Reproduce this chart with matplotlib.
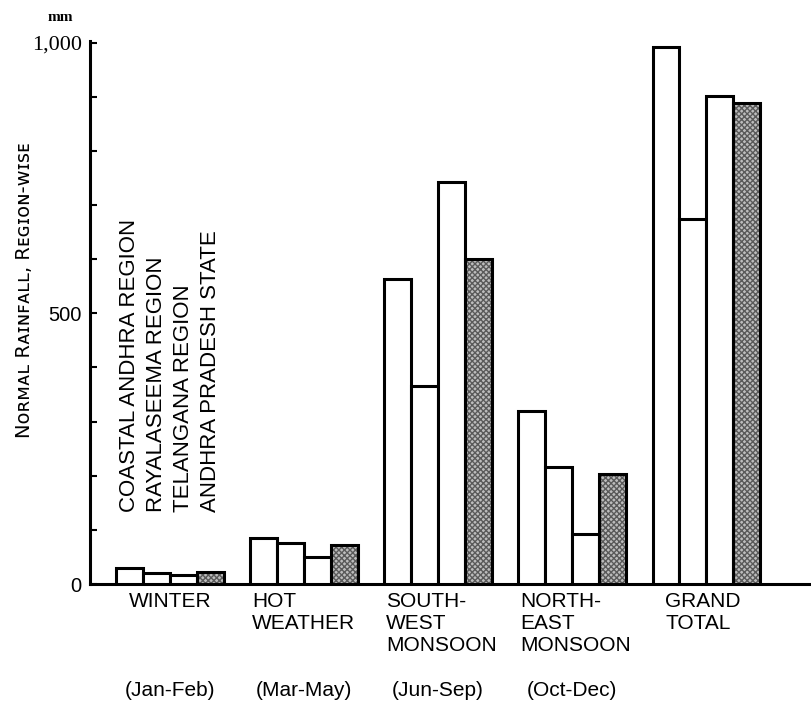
import matplotlib
matplotlib.use('Agg')
import matplotlib.pyplot as plt
import numpy as np
from matplotlib.ticker import MultipleLocator

# seasonal normal rainfall (mm)
seasons = ['WINTER', 'HOT\nWEATHER', 'SOUTH-\nWEST\nMONSOON', 'NORTH-\nEAST\nMONSOON', 'GRAND\nTOTAL']
months = ['(Jan-Feb)', '(Mar-May)', '(Jun-Sep)', '(Oct-Dec)']
regions = ['COASTAL ANDHRA REGION', 'RAYALASEEMA REGION', 'TELANGANA REGION', 'ANDHRA PRADESH STATE']
coastal = [30, 85, 564, 320, 991]
rayalaseema = [20, 76, 366, 216, 675]
telangana = [17, 50, 743, 92, 902]
state = [22, 72, 601, 203, 889]
y_ticks = [0, 500, 1000]
y_ticklabels = ['0', '500', '1,000']

plt.rcParams['font.family'] = ['Liberation Sans', 'DejaVu Sans']

fig = plt.figure(figsize=(8.12, 7.09), dpi=100)
ax = fig.add_axes([90 / 812, 125 / 709, 722 / 812, 543 / 709])

x = np.arange(len(seasons))
w = 0.2
series = [coastal, rayalaseema, telangana, state]
for k, vals in enumerate(series):
    pos = x + (k - 1.5) * w
    if k == 3:
        # stippled fill for the state total
        ax.bar(pos, vals, w, color='#bdbdbd', hatch='xxxxxx', edgecolor='#5a5a5a',
               linewidth=0, zorder=2)
        ax.bar(pos, vals, w, facecolor='none', edgecolor='black', linewidth=2.2, zorder=3)
    else:
        ax.bar(pos, vals, w, facecolor='white', edgecolor='black', linewidth=2.2, zorder=3)

ax.set_xlim(-0.597, 4.79)
ax.set_ylim(0, 1003)
for s in ['top', 'right']:
    ax.spines[s].set_visible(False)
ax.spines['left'].set_linewidth(2.2)
ax.spines['bottom'].set_linewidth(2.2)

ax.set_xticks([])
ax.set_yticks(y_ticks)
ax.set_yticklabels(y_ticklabels)
ax.yaxis.set_minor_locator(MultipleLocator(100))
ax.tick_params(axis='y', which='both', direction='in', length=5, width=1.5, pad=6, labelsize=14.5)
top_lab = ax.get_yticklabels()[-1]
top_lab.set_fontfamily('Liberation Serif')
top_lab.set_fontsize(16)

# season labels under the groups
for i, lab in enumerate(seasons):
    if i == 0:
        ax.annotate(lab, xy=(x[i], 0), xytext=(0, -6), textcoords='offset points',
                    ha='center', va='top', fontsize=15, linespacing=1.2)
    else:
        dx = 9 if i == 4 else 1
        ax.annotate(lab, xy=(x[i] - 2 * w, 0), xytext=(dx, -6), textcoords='offset points',
                    ha='left', va='top', fontsize=15, linespacing=1.2)

for i, lab in enumerate(months):
    ax.annotate(lab, xy=(x[i], 0), xytext=(0, -77), textcoords='offset points',
                ha='center', va='center', fontsize=15)

# region names written up above the winter bars
for k, lab in enumerate(regions):
    ax.text(x[0] + (k - 1.5) * w, 133, lab, rotation=90, ha='center', va='bottom', fontsize=16)

ax.text(-0.0914, 0.541, 'Nᴏʀᴍᴀʟ Rᴀɪɴꜰᴀʟʟ, Rᴇɢɪᴏɴ-ᴡɪꜱᴇ', rotation=90, ha='center', va='center',
        fontsize=14, family=['DejaVu Sans', 'Noto Sans'], transform=ax.transAxes)
ax.text(-0.0416, 1.044, 'mm', ha='center', va='center', fontsize=11, fontweight='bold',
        family='Liberation Serif', transform=ax.transAxes)

fig.savefig('out.png', dpi=100)
